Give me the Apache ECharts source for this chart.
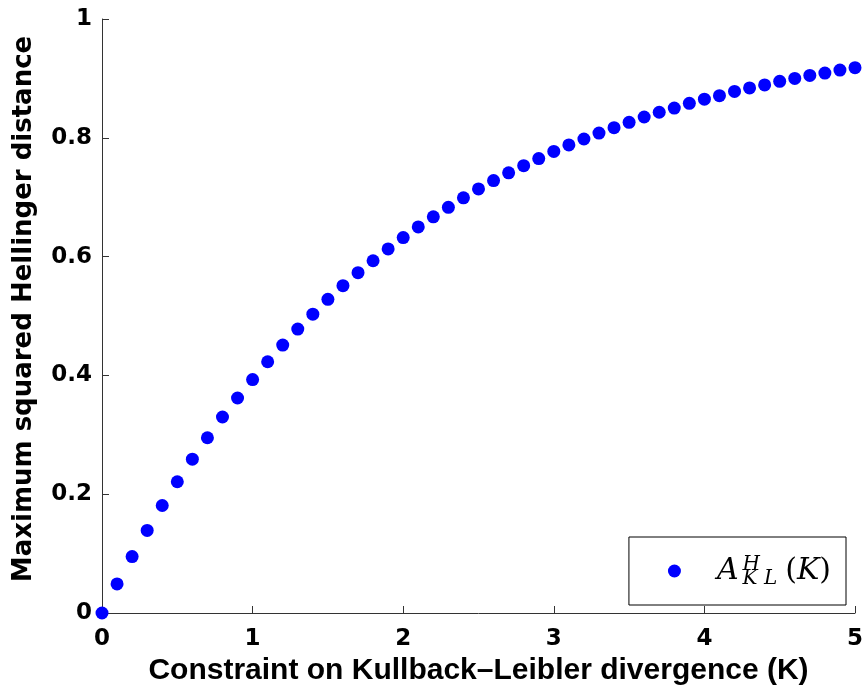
<!DOCTYPE html>
<html><head><meta charset="utf-8">
<script src="https://cdn.jsdelivr.net/npm/echarts@6/dist/echarts.min.js"></script>
<style>html,body{margin:0;padding:0;background:#fff}#c{width:867px;height:692px}</style>
</head><body><div id="c"></div>
<script>
const kValues = [0,0.1,0.2,0.3,0.4,0.5,0.6,0.7,0.8,0.9,1.0,1.1,1.2,1.3,1.4,1.5,1.6,1.7,1.8,1.9,2.0,2.1,2.2,2.3,2.4,2.5,2.6,2.7,2.8,2.9,3.0,3.1,3.2,3.3,3.4,3.5,3.6,3.7,3.8,3.9,4.0,4.1,4.2,4.3,4.4,4.5,4.6,4.7,4.8,4.9,5.0];
const hellinger = [0,0.049,0.095,0.139,0.181,0.221,0.259,0.295,0.330,0.362,0.393,0.423,0.451,0.478,0.503,0.528,0.551,0.573,0.593,0.613,0.632,0.650,0.667,0.683,0.699,0.714,0.728,0.741,0.753,0.765,0.777,0.788,0.798,0.808,0.817,0.826,0.835,0.843,0.850,0.858,0.865,0.871,0.878,0.884,0.889,0.895,0.900,0.905,0.909,0.914,0.918];
const xTicks = [0,1,2,3,4,5];
const yTicks = [0,0.2,0.4,0.6,0.8,1];
const seriesName = 'AKL';

const chart = echarts.init(document.getElementById('c'), null, {renderer:'canvas'});
const font = 'DejaVu Sans';
const axisColor = '#333';
const serif = 'DejaVu Serif';
chart.setOption({
  animation:false,
  backgroundColor:'#fff',
  grid:{left:102,right:12,top:19,bottom:79},
  xAxis:{type:'value',min:0,max:5,interval:1,
    name:'Constraint on Kullback\u2013Leibler divergence (K)',nameLocation:'middle',nameGap:41,
    nameTextStyle:{fontFamily:'Liberation Sans',fontWeight:'bold',fontSize:30,color:'#000'},
    axisLine:{lineStyle:{color:axisColor,width:1}},
    axisTick:{inside:true,length:7,lineStyle:{color:axisColor}},
    axisLabel:{fontFamily:font,fontWeight:'bold',fontSize:23,color:'#000',margin:15,
      formatter:v=>xTicks.includes(v)?String(v):''},
    splitLine:{show:false}},
  yAxis:{type:'value',min:0,max:1,interval:0.2,
    name:'Maximum squared Hellinger distance',nameLocation:'middle',nameGap:65,
    nameTextStyle:{fontFamily:font,fontWeight:'bold',fontSize:26,color:'#000',padding:[0,0,0,14]},
    axisLine:{show:true,lineStyle:{color:axisColor,width:1}},
    axisTick:{show:true,inside:true,length:7,lineStyle:{color:axisColor}},
    axisLabel:{fontFamily:font,fontWeight:'bold',fontSize:23,color:'#000',margin:10,
      formatter:v=>{const t=yTicks.find(y=>Math.abs(y-v)<1e-9);return t===undefined?'':String(t);}},
    splitLine:{show:false}},
  legend:{right:21,bottom:87,orient:'vertical',
    borderColor:'#000',borderWidth:1,borderRadius:0,backgroundColor:'#fff',
    padding:[16,15,16,39],itemWidth:13,itemHeight:13,
    data:[{name:seriesName,icon:'circle',itemStyle:{opacity:1}}],
    formatter:()=>'{a|A}{h|H}{s|K L}{p|(}{k|K}{p|)}',
    textStyle:{rich:{
      a:{fontFamily:serif,fontStyle:'italic',fontSize:30,color:'#000',padding:[0,4,0,31],verticalAlign:'middle',height:36,lineHeight:36},
      h:{fontFamily:serif,fontStyle:'italic',fontSize:20,color:'#000',width:0,verticalAlign:'top',lineHeight:20,padding:[2,0,0,0]},
      s:{fontFamily:serif,fontStyle:'italic',fontSize:20,color:'#000',verticalAlign:'bottom',lineHeight:20,padding:[0,8,0,0]},
      p:{fontFamily:serif,fontSize:30,color:'#000',verticalAlign:'middle',lineHeight:36},
      k:{fontFamily:serif,fontStyle:'italic',fontSize:30,color:'#000',verticalAlign:'middle',lineHeight:36}
    }}},
  series:[{name:seriesName,type:'scatter',symbol:'circle',symbolSize:13,
    itemStyle:{color:'#0000ff',opacity:1},
    data:kValues.map((k,i)=>[k,hellinger[i]])}]
});
</script></body></html>
